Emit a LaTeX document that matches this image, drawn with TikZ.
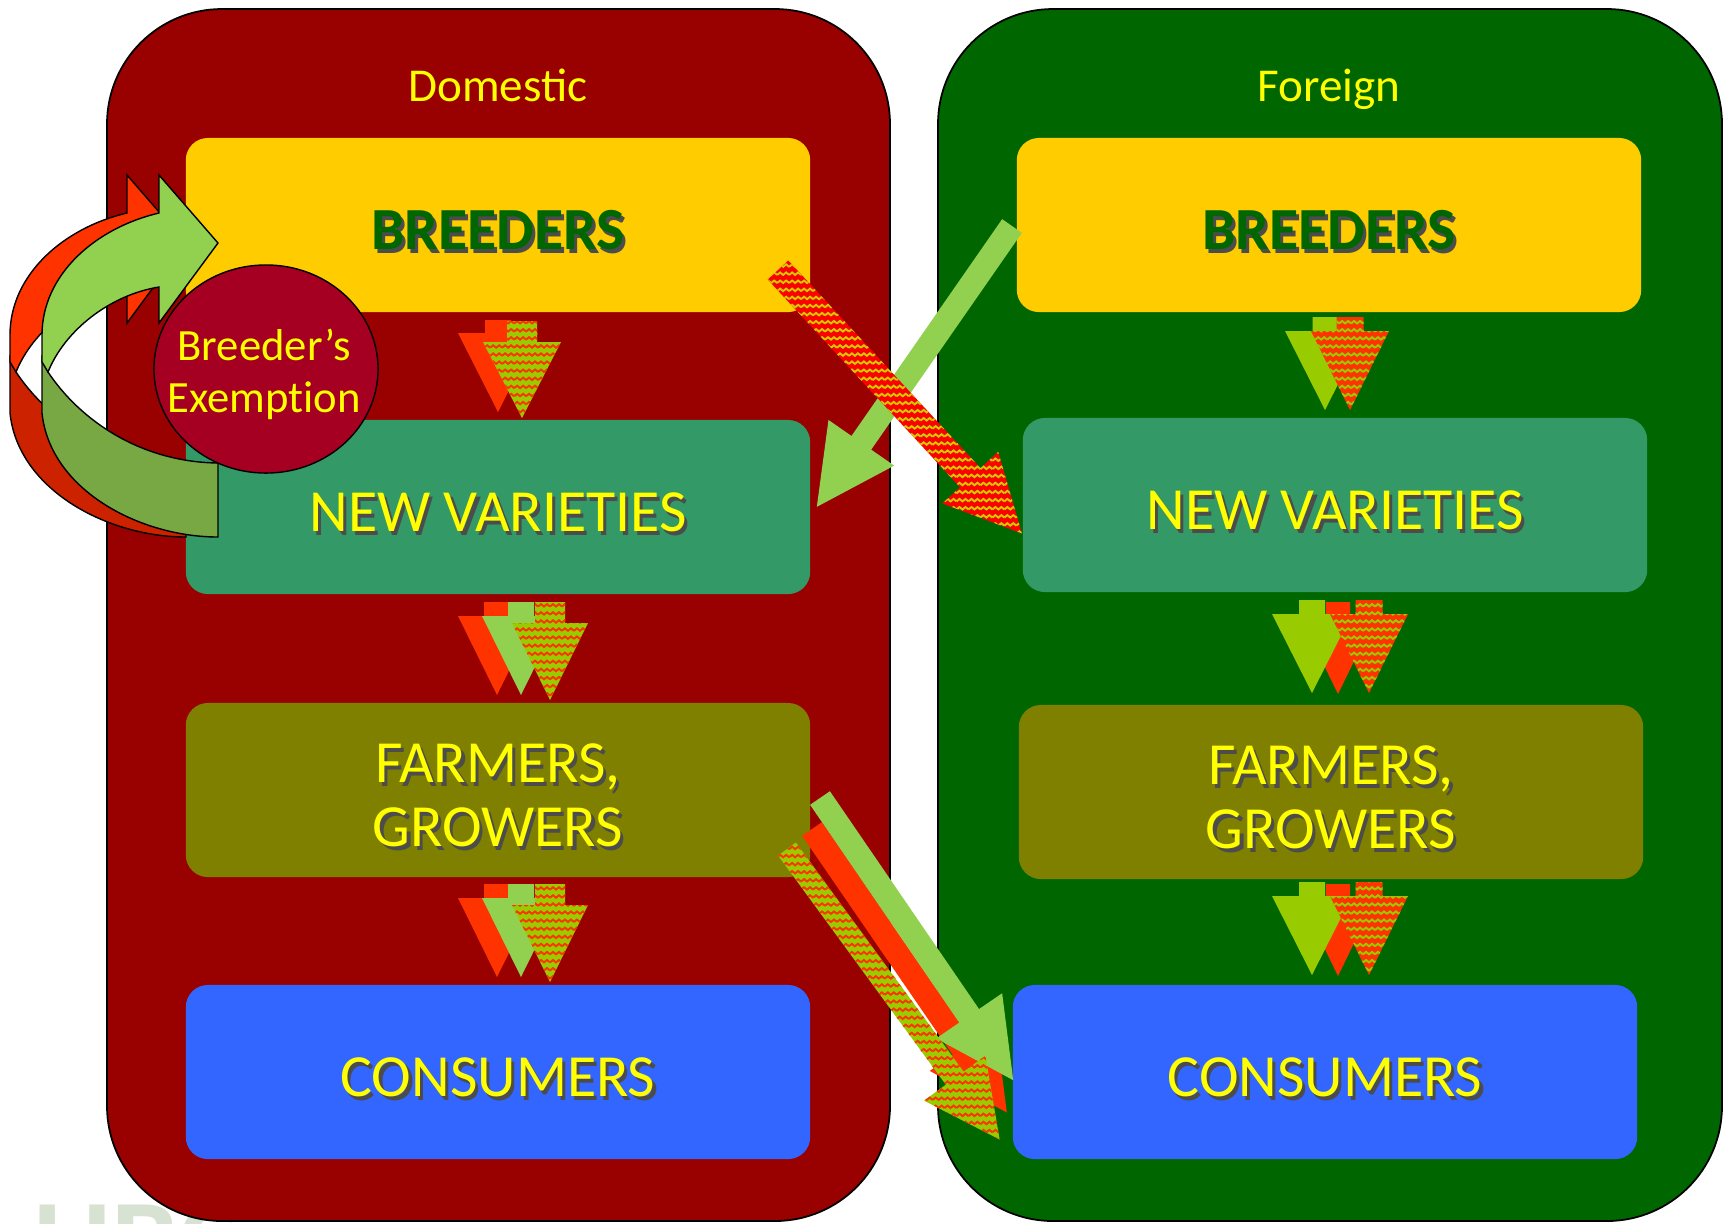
\documentclass[tikz,border=0pt]{standalone}
\usepackage{fontspec}
\setmainfont{Carlito}
\usetikzlibrary{patterns}

\definecolor{domred}{HTML}{990000}
\definecolor{forgreen}{HTML}{006600}
\definecolor{breedyellow}{HTML}{FFCC00}
\definecolor{varteal}{HTML}{339966}
\definecolor{farmolive}{HTML}{808000}
\definecolor{consblue}{HTML}{3366FF}
\definecolor{exemptred}{HTML}{A50021}
\definecolor{txtyellow}{HTML}{FFFF00}
\definecolor{arrowred}{HTML}{FF3300}
\definecolor{arrowgreen}{HTML}{92D050}
\definecolor{arrowlime}{HTML}{99CC00}
\definecolor{bandgreen}{HTML}{77A843}
\definecolor{bandred}{HTML}{CC2200}
\definecolor{waveyellow}{HTML}{CCCC00}
\definecolor{ubcgrey}{HTML}{D8E2D3}

\pgfdeclarepatternformonly{zigwave}{\pgfqpoint{-0.5pt}{-0.5pt}}{\pgfqpoint{4pt}{3pt}}{\pgfqpoint{3.4pt}{2.3pt}}{%
  \pgfsetlinewidth{0.55pt}%
  \pgfpathmoveto{\pgfqpoint{0pt}{0.5pt}}%
  \pgfpathlineto{\pgfqpoint{0.85pt}{1.2pt}}%
  \pgfpathlineto{\pgfqpoint{1.7pt}{0.5pt}}%
  \pgfpathlineto{\pgfqpoint{2.55pt}{1.2pt}}%
  \pgfpathlineto{\pgfqpoint{3.4pt}{0.5pt}}%
  \pgfusepath{stroke}}

\newcommand{\boxfont}{\fontsize{17}{18.2}\selectfont}
\newcommand{\shadowed}[1]{\raisebox{-1.6pt}[11pt][0pt]{\makebox[0pt][l]{\hspace{0.9pt}\raisebox{-0.9pt}{\color{black!70}#1}}#1}}

\tikzset{panel/.style = {draw=black, line width=0.5pt, rounded corners=1.15cm}}
\tikzset{box/.style = {minimum width=6.24cm, minimum height=1.74cm, rounded corners=0.22cm,
                       inner sep=0pt, align=center, text=txtyellow, font=\boxfont}}
\tikzset{title/.style = {anchor=base, text=txtyellow, font=\fontsize{13.4}{16}\selectfont}}
\tikzset{ribbonline/.style = {draw=black, line width=0.4pt}}
\tikzset{greenwave/.style = {fill=arrowlime, postaction={pattern=zigwave, pattern color=arrowred}}}
\tikzset{redwave/.style = {fill=arrowred, postaction={pattern=zigwave, pattern color=arrowlime}}}
\tikzset{hotwave/.style = {fill=red, postaction={pattern=zigwave, pattern color=waveyellow}}}

% x, top, head base, tip, shaft half, head half
\newcommand{\dnarrow}[7]{%
  \fill[#1] (#2-#6,#3) -- (#2+#6,#3) -- (#2+#6,#4) -- (#2+#7,#4) -- (#2,#5)
            -- (#2-#7,#4) -- (#2-#6,#4) -- cycle;}
% tail, angle, length, head length, shaft half, head half
\newcommand{\slantarrow}[7]{%
  \begin{scope}[shift={#2}, rotate=#3]
    \fill[#1] (0,-#6) -- (#4-#5,-#6) -- (#4-#5,-#7) -- (#4,0) -- (#4-#5,#7)
              -- (#4-#5,#6) -- (0,#6) -- cycle;
  \end{scope}}
\newcommand{\ribbon}[3]{%
  \begin{scope}[shift={(#1,0)}]
    \filldraw[fill=#3, ribbonline] (42,358) -- (42,413) .. controls (50,490) and (140,537) .. (218,537)
      -- (218,463) .. controls (140,462) and (80,420) .. (48,372) -- cycle;
    \filldraw[fill=#2, ribbonline] (159,213) .. controls (95,228) and (42,275) .. (42,335)
      -- (42,362) -- (48,372) .. controls (65,330) and (110,295) .. (159,287)
      -- (159,323) -- (218,243) -- (159,175) -- cycle;
  \end{scope}}

\begin{document}
\begin{tikzpicture}[x=0.01cm, y=-0.01cm]
  \useasboundingbox (0,0) rectangle (1727,1223);
  \clip (0,0) rectangle (1727,1223);

  \node[anchor=north west, inner sep=0pt, text=ubcgrey, font=\fontsize{34}{34}\selectfont\bfseries] (ubc) at (33,1203) {UBC};

  % the two sides
  \filldraw[panel, fill=domred] (107,9) rectangle (890,1221);
  \filldraw[panel, fill=forgreen] (938,9) rectangle (1722,1221);
  \node[title] (dtitle) at (498,101) {Domestic};
  \node[title] (ftitle) at (1329,101) {Foreign};

  % domestic chain
  \node[box, fill=breedyellow, text=forgreen, font=\boxfont\bfseries] (dbreed) at (498,225) {\shadowed{BREEDERS}};
  \node[box, fill=varteal] (dvar) at (498,507) {\shadowed{NEW VARIETIES}};
  \node[box, fill=farmolive] (dfarm) at (498,790) {\shadowed{FARMERS,}\\\shadowed{GROWERS}};
  \node[box, fill=consblue] (dcons) at (498,1072) {\shadowed{CONSUMERS}};

  % foreign chain
  \node[box, fill=breedyellow, text=forgreen, font=\boxfont\bfseries] (fbreed) at (1329,225) {\shadowed{BREEDERS}};
  \node[box, fill=varteal] (fvar) at (1335,505) {\shadowed{NEW VARIETIES}};
  \node[box, fill=farmolive] (ffarm) at (1331,792) {\shadowed{FARMERS,}\\\shadowed{GROWERS}};
  \node[box, fill=consblue] (fcons) at (1325,1072) {\shadowed{CONSUMERS}};

  % flows inside each side
  \dnarrow{arrowred}{498}{320}{333}{412}{13}{40}
  \dnarrow{greenwave}{522}{321}{342}{418}{15}{39}
  \foreach \dy in {0,282} {
    \dnarrow{arrowred}{497}{602+\dy}{616+\dy}{695+\dy}{13}{39}
    \dnarrow{arrowgreen}{521}{602+\dy}{616+\dy}{695+\dy}{13}{39}
    \dnarrow{greenwave}{550}{602+\dy}{623+\dy}{700+\dy}{15}{38}
  }
  \dnarrow{arrowlime}{1325}{317}{331}{410}{12.5}{40}
  \dnarrow{redwave}{1350}{317}{331}{410}{13.5}{39}
  \foreach \dy in {0,282} {
    \dnarrow{arrowred}{1338}{602+\dy}{614+\dy}{694+\dy}{12}{39}
    \dnarrow{arrowlime}{1312}{600+\dy}{614+\dy}{693+\dy}{13}{40}
    \dnarrow{redwave}{1369}{600+\dy}{614+\dy}{693+\dy}{13.5}{39}
  }

  % flows across
  \slantarrow{arrowgreen}{(1012,226)}{-124.8}{342}{78}{12}{40}
  \slantarrow{hotwave}{(778,270)}{-47.2}{359}{76}{14}{38}
  \slantarrow{arrowred}{(812,829)}{-55.5}{344}{78}{12}{40}
  \slantarrow{arrowgreen}{(820,798)}{-55.6}{342}{78}{12}{40}
  \slantarrow{greenwave}{(787,849)}{-53.8}{360}{76}{11}{38}

  % saved seed loop
  \ribbon{-32}{arrowred}{bandred}
  \ribbon{0}{arrowgreen}{bandgreen}
  \filldraw[fill=exemptred, draw=black, line width=0.4pt] (266,369) ellipse [x radius=1.12cm, y radius=1.04cm];
  \node[align=center, inner sep=0pt, text=txtyellow, font=\fontsize{12.7}{14.8}\selectfont\addfontfeatures{Ligatures=NoCommon}] (exempt) at (264,374) {Breeder’s\\Exemption};
\end{tikzpicture}
\end{document}
